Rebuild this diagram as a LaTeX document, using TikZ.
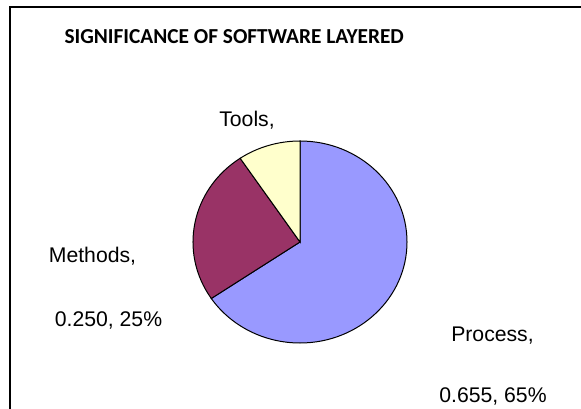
\documentclass[tikz,border=0pt]{standalone}
\usepackage{fontspec}
\setmainfont{Liberation Sans}
\newfontfamily\titlefont{Carlito}

\definecolor{procblue}{RGB}{153,153,255}
\definecolor{methplum}{RGB}{153,51,102}
\definecolor{toolcream}{RGB}{255,255,204}

\tikzset{every picture/.style={line width=0.75pt}}
\tikzset{
slice/.style={draw=black},
pielabel/.style={anchor=base, inner sep=0pt, font=\fontsize{15.9}{18}\selectfont},
}

\begin{document}
\begin{tikzpicture}[x=0.75pt,y=0.75pt,yscale=-1,xscale=1]
%set diagram size
\useasboundingbox (0,0) rectangle (581,409);

%Frame
\draw [line width=1.1pt] (10,409) -- (10,7) -- (581,7) ;

\coordinate (c) at (300,242);

%Shape: Pie slice Process
\draw [slice, fill=procblue] (c) -- ++(-90:107 and 101) arc [start angle=-90, end angle=146, x radius=107, y radius=101] -- cycle ;
%Shape: Pie slice Methods
\draw [slice, fill=methplum] (c) -- ++(146:107 and 101) arc [start angle=146, end angle=236, x radius=107, y radius=101] -- cycle ;
%Shape: Pie slice Tools
\draw [slice, fill=toolcream] (c) -- ++(236:107 and 101) arc [start angle=236, end angle=270, x radius=107, y radius=101] -- cycle ;

% Text Node
\node [anchor=base west, inner sep=0pt, font=\titlefont\bfseries\fontsize{16}{18}\selectfont] (title) at (64,43.5) {SIGNIFICANCE OF SOFTWARE LAYERED};
% Text Node
\node [pielabel] (tools) at (247,127) {Tools,};
% Text Node
\node [pielabel] (methods) at (92.5,263) {Methods,};
% Text Node
\node [pielabel] (methodsval) at (108.5,326) {0.250, 25\%};
% Text Node
\node [pielabel] (process) at (492.5,341) {Process,};
% Text Node
\node [pielabel] (processval) at (493,402) {0.655, 65\%};

\end{tikzpicture}
\end{document}
